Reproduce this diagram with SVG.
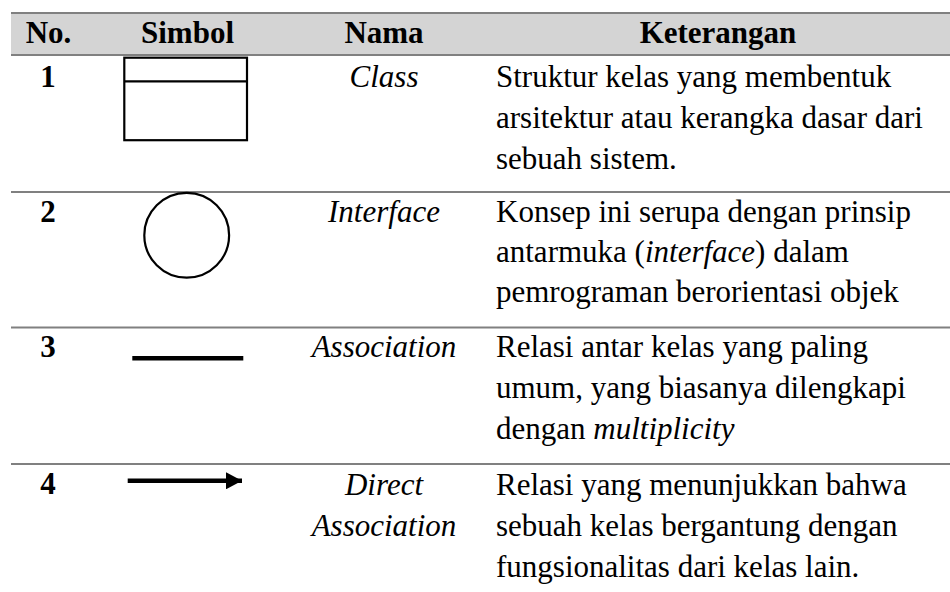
<svg xmlns="http://www.w3.org/2000/svg" width="950" height="592" viewBox="0 0 950 592">
  <style>
    text { font-family: "Liberation Serif", "Times New Roman", serif; font-size: 31px; fill: #000; }
    .hd { font-weight: bold; text-anchor: middle; }
    .no { font-weight: bold; text-anchor: middle; }
    .nm { font-style: italic; text-anchor: middle; }
    .it { font-style: italic; }
    .rule { stroke: #808080; stroke-width: 2; fill: none; }
    .sym { stroke: #000; stroke-width: 2.2; fill: none; }
    .bar { stroke: #000; stroke-width: 4.5; fill: none; }
  </style>
  <defs>
    <marker id="head" markerUnits="userSpaceOnUse" markerWidth="16" markerHeight="17" refX="16" refY="8.5" orient="auto">
      <path d="M0,0 L16,8.5 L0,17 Z" fill="#000"/>
    </marker>
  </defs>

  <rect width="950" height="592" fill="#fff"/>

  <!-- header band -->
  <g id="header">
    <rect x="11" y="13" width="939" height="42" fill="#d4d4d4"/>
    <text class="hd" x="48.5" y="43">No.</text>
    <text class="hd" x="187.5" y="43">Simbol</text>
    <text class="hd" x="384" y="43">Nama</text>
    <text class="hd" x="718" y="43">Keterangan</text>
  </g>

  <!-- horizontal table rules -->
  <g id="rules">
    <line class="rule" x1="11" y1="13" x2="950" y2="13"/>
    <line class="rule" x1="11" y1="55" x2="950" y2="55"/>
    <line class="rule" x1="11" y1="192" x2="950" y2="192"/>
    <line class="rule" x1="11" y1="327.5" x2="950" y2="327.5"/>
    <line class="rule" x1="11" y1="464" x2="950" y2="464"/>
  </g>

  <!-- row 1: class -->
  <g id="row-class">
    <text class="no" x="48" y="87">1</text>
    <rect class="sym" x="124.3" y="57.7" width="122.7" height="82.5"/>
    <line class="sym" x1="124.3" y1="81.3" x2="247" y2="81.3"/>
    <text class="nm" x="384" y="87">Class</text>
    <text x="496" y="87">Struktur kelas yang membentuk</text>
    <text x="496" y="128">arsitektur atau kerangka dasar dari</text>
    <text x="496" y="169">sebuah sistem.</text>
  </g>

  <!-- row 2: interface -->
  <g id="row-interface">
    <text class="no" x="48" y="222">2</text>
    <circle class="sym" cx="186.7" cy="235.3" r="42.4"/>
    <text class="nm" x="384" y="222">Interface</text>
    <text x="496" y="222">Konsep ini serupa dengan prinsip</text>
    <text x="496" y="262">antarmuka (<tspan class="it">interface</tspan>) dalam</text>
    <text x="496" y="302">pemrograman berorientasi objek</text>
  </g>

  <!-- row 3: association -->
  <g id="row-association">
    <text class="no" x="48" y="357">3</text>
    <line class="bar" x1="132.3" y1="358.3" x2="243.3" y2="358.3"/>
    <text class="nm" x="384" y="357">Association</text>
    <text x="496" y="357">Relasi antar kelas yang paling</text>
    <text x="496" y="398">umum, yang biasanya dilengkapi</text>
    <text x="496" y="439">dengan <tspan class="it">multiplicity</tspan></text>
  </g>

  <!-- row 4: directed association -->
  <g id="row-direct">
    <text class="no" x="48" y="494">4</text>
    <line class="bar" x1="127.7" y1="480.8" x2="242" y2="480.8" marker-end="url(#head)"/>
    <text class="nm" x="384" y="495">Direct</text>
    <text class="nm" x="384" y="536">Association</text>
    <text x="496" y="495">Relasi yang menunjukkan bahwa</text>
    <text x="496" y="536">sebuah kelas bergantung dengan</text>
    <text x="496" y="577">fungsionalitas dari kelas lain.</text>
  </g>
</svg>
